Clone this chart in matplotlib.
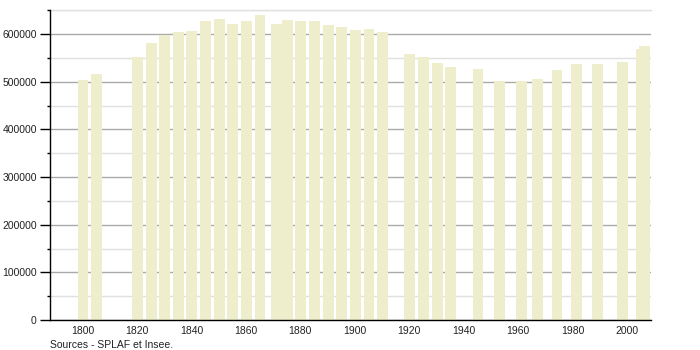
import matplotlib
matplotlib.use("Agg")
import matplotlib.pyplot as plt
from matplotlib.ticker import MultipleLocator

years = [1801, 1806, 1821, 1826, 1831, 1836, 1841, 1846, 1851, 1856, 1861, 1866,
         1872, 1876, 1881, 1886, 1891, 1896, 1901, 1906, 1911, 1921, 1926, 1931,
         1936, 1946, 1954, 1962, 1968, 1975, 1982, 1990, 1999, 2006, 2007]
population = [504000, 516600, 552300, 581700, 598500, 604800, 606900, 627900,
              632100, 621600, 627900, 640500, 621600, 630000, 627900, 627900,
              619500, 615300, 609000, 611100, 604800, 558600, 552300, 539700,
              531300, 527100, 501900, 501900, 506100, 525000, 537600, 537600,
              541800, 569100, 575400]
xticks = [1800, 1820, 1840, 1860, 1880, 1900, 1920, 1940, 1960, 1980, 2000]
yticks = [0, 100000, 200000, 300000, 400000, 500000, 600000]
source = "Sources - SPLAF et Insee."

plt.rcParams['font.family'] = ['Liberation Sans', 'DejaVu Sans']

fig = plt.figure(figsize=(7, 3.5), dpi=100)
ax = fig.add_axes([50/700, 1 - 320/350, 601/700, 309.7/350])

offset = -0.8
ax.bar([y + offset for y in years], population, width=4.0, color='#eeeecc',
       linewidth=0, zorder=2)

ax.set_xlim(1788.1, 2008.7)
ax.set_ylim(0, 650000)
ax.set_yticks(yticks)
ax.set_yticklabels([str(v) for v in yticks])
ax.yaxis.set_minor_locator(MultipleLocator(50000))
ax.set_xticks(xticks)
ax.set_xticklabels([str(v) for v in xticks])

ax.grid(axis='y', which='major', color='#aaaaaa', linewidth=1.0, zorder=1)
ax.grid(axis='y', which='minor', color='#e0e0e0', linewidth=1.0, zorder=1)
ax.axhline(650000, color='#e0e0e0', linewidth=1.0, zorder=1, clip_on=False)

for s in ['top', 'right']:
    ax.spines[s].set_visible(False)
for s in ['left', 'bottom']:
    ax.spines[s].set_color('black')
    ax.spines[s].set_linewidth(1.0)
    ax.spines[s].set_zorder(3)

ax.tick_params(axis='y', which='major', length=7, width=1, color='black',
               labelsize=7.5, labelcolor='#222222', pad=2.5)
ax.tick_params(axis='y', which='minor', length=2, width=1, color='black')
ax.tick_params(axis='x', which='both', length=0, labelsize=7.5,
               labelcolor='#222222', pad=4)

fig.text(50/700, 1 - 345/350, source, fontsize=7.5, color='#222222',
         ha='left', va='center')

fig.savefig('out.png', dpi=100)
